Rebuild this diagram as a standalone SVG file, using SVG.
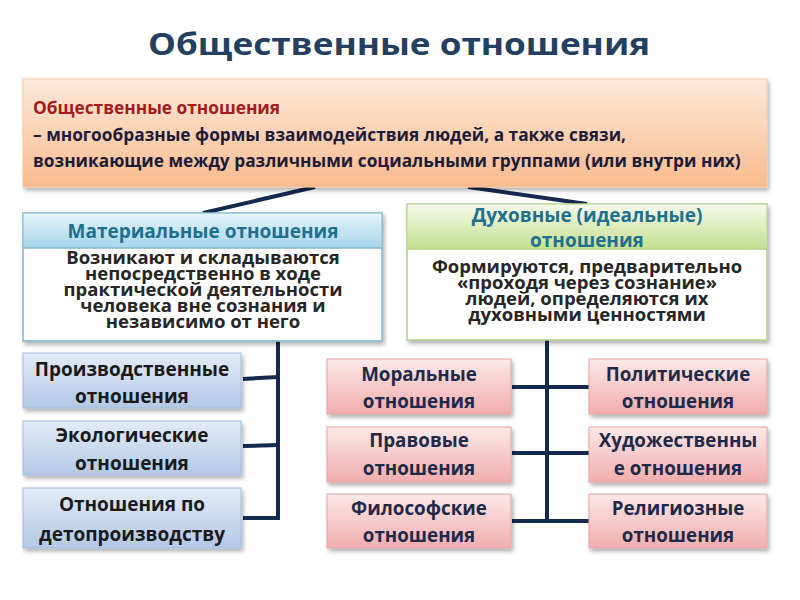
<svg xmlns="http://www.w3.org/2000/svg" width="800" height="600" viewBox="0 0 800 600">
<defs>
<linearGradient id="gOrange" x1="0" y1="0" x2="0" y2="1"><stop offset="0" stop-color="#fde9dc"/><stop offset="1" stop-color="#f9bb8c"/></linearGradient>
<linearGradient id="gBlueHead" x1="0" y1="0" x2="0" y2="1"><stop offset="0" stop-color="#e6f4fa"/><stop offset="1" stop-color="#a6d6ea"/></linearGradient>
<linearGradient id="gGreenHead" x1="0" y1="0" x2="0" y2="1"><stop offset="0" stop-color="#f4f9ea"/><stop offset="1" stop-color="#c6df90"/></linearGradient>
<linearGradient id="gBlue" x1="0" y1="0" x2="0" y2="1"><stop offset="0" stop-color="#e3ecf7"/><stop offset="1" stop-color="#b3c8e6"/></linearGradient>
<linearGradient id="gPink" x1="0" y1="0" x2="0" y2="1"><stop offset="0" stop-color="#fce8e8"/><stop offset="1" stop-color="#f2adad"/></linearGradient>
<filter id="sh" x="-10%" y="-10%" width="130%" height="140%"><feDropShadow dx="2" dy="3" stdDeviation="2" flood-color="#000" flood-opacity="0.3"/></filter>
</defs>
<style>
text{font-family:"Open Sans","Noto Sans","Liberation Sans",sans-serif;font-weight:bold;}
.title{font-size:31px;fill:#243f60;}
.def{font-size:17.3px;fill:#1c1c3a;}
.defred{font-size:17.3px;fill:#a31b1b;}
.head{font-size:19px;fill:#1f6f8f;text-anchor:middle;}
.body{font-size:18.5px;fill:#262626;text-anchor:middle;}
.blue{font-size:19px;fill:#1a1a1a;text-anchor:middle;}
.pink{font-size:18.8px;fill:#1f2a4a;text-anchor:middle;}
.conn{stroke:#14294e;stroke-width:4;fill:none;}
.bBlue{fill:url(#gBlue);stroke:#a3bcdd;stroke-width:1;filter:url(#sh);}
.bPink{fill:url(#gPink);stroke:#e5a3a3;stroke-width:1;filter:url(#sh);}
</style>
<rect width="800" height="600" fill="#ffffff"/>
<text class="title" x="148" y="55" textLength="502" lengthAdjust="spacingAndGlyphs">Общественные отношения</text>

<g id="connectors">
<line class="conn" x1="315" y1="187" x2="203" y2="213"/>
<line class="conn" x1="468" y1="187" x2="587" y2="204"/>
<polyline class="conn" points="278,340 278,518 243,518"/>
<line class="conn" x1="243" y1="379" x2="278" y2="377"/>
<line class="conn" x1="243" y1="446" x2="278" y2="445"/>
<line class="conn" x1="547" y1="340" x2="547" y2="522"/>
<line class="conn" x1="512" y1="387" x2="590" y2="387"/>
<line class="conn" x1="512" y1="453" x2="590" y2="453"/>
<line class="conn" x1="512" y1="521" x2="590" y2="521"/>
</g>

<g id="definition">
<rect x="23" y="79" width="744" height="108" fill="url(#gOrange)" stroke="#f2c7a6" stroke-width="1" filter="url(#sh)"/>
<text class="defred" x="33" y="114">Общественные отношения</text>
<text class="def" x="33" y="141">– многообразные формы взаимодействия людей, а также связи,</text>
<text class="def" x="33" y="167">возникающие между различными социальными группами (или внутри них)</text>
</g>

<g id="material">
<rect x="23" y="213" width="359" height="128" fill="#ffffff" stroke="#7fb6ca" stroke-width="1.5" filter="url(#sh)"/>
<rect x="23.75" y="213.75" width="357.5" height="34" fill="url(#gBlueHead)"/>
<line x1="23" y1="248" x2="382" y2="248" stroke="#7fb6ca" stroke-width="1.5"/>
<text class="head" x="203" y="238">Материальные отношения</text>
<text class="body" x="203" y="264">Возникают и складываются</text>
<text class="body" x="203" y="280">непосредственно в ходе</text>
<text class="body" x="203" y="296">практической деятельности</text>
<text class="body" x="203" y="312">человека вне сознания и</text>
<text class="body" x="203" y="328">независимо от него</text>
</g>

<g id="spiritual">
<rect x="407" y="204" width="360" height="136" fill="#ffffff" stroke="#b4cf86" stroke-width="1.5" filter="url(#sh)"/>
<rect x="407.75" y="204.75" width="358.5" height="44" fill="url(#gGreenHead)"/>
<line x1="407" y1="249" x2="767" y2="249" stroke="#b4cf86" stroke-width="1.5"/>
<text class="head" x="587" y="222">Духовные (идеальные)</text>
<text class="head" x="587" y="247">отношения</text>
<text class="body" x="587" y="273">Формируются, предварительно</text>
<text class="body" x="587" y="289">«проходя через сознание»</text>
<text class="body" x="587" y="305">людей, определяются их</text>
<text class="body" x="587" y="321">духовными ценностями</text>
</g>

<g id="production">
<rect class="bBlue" x="23" y="353" width="218" height="55"/>
<text class="blue" x="132" y="376">Производственные</text>
<text class="blue" x="132" y="403">отношения</text>
</g>
<g id="ecological">
<rect class="bBlue" x="23" y="421" width="218" height="54"/>
<text class="blue" x="132" y="442">Экологические</text>
<text class="blue" x="132" y="470">отношения</text>
</g>
<g id="reproduction">
<rect class="bBlue" x="23" y="488" width="218" height="60"/>
<text class="blue" x="132" y="511">Отношения по</text>
<text class="blue" x="132" y="541">детопроизводству</text>
</g>

<g id="moral">
<rect class="bPink" x="327" y="359" width="184" height="55"/>
<text class="pink" x="419" y="381">Моральные</text>
<text class="pink" x="419" y="408">отношения</text>
</g>
<g id="legal">
<rect class="bPink" x="327" y="427" width="184" height="55"/>
<text class="pink" x="419" y="447">Правовые</text>
<text class="pink" x="419" y="475">отношения</text>
</g>
<g id="philosophical">
<rect class="bPink" x="327" y="494" width="184" height="54"/>
<text class="pink" x="419" y="515">Философские</text>
<text class="pink" x="419" y="542">отношения</text>
</g>
<g id="political">
<rect class="bPink" x="589" y="359" width="178" height="55"/>
<text class="pink" x="678" y="381">Политические</text>
<text class="pink" x="678" y="408">отношения</text>
</g>
<g id="artistic">
<rect class="bPink" x="589" y="427" width="178" height="55"/>
<text class="pink" x="678" y="447">Художественны</text>
<text class="pink" x="678" y="475">е отношения</text>
</g>
<g id="religious">
<rect class="bPink" x="589" y="494" width="178" height="54"/>
<text class="pink" x="678" y="515">Религиозные</text>
<text class="pink" x="678" y="542">отношения</text>
</g>
</svg>
